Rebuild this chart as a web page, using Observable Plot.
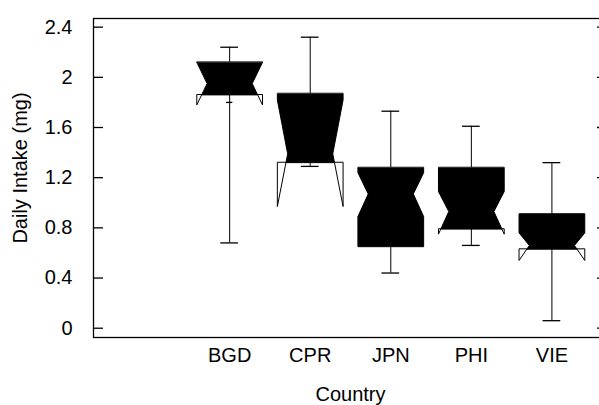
<!DOCTYPE html>
<html>
<head>
<meta charset="utf-8">
<script src="https://cdn.jsdelivr.net/npm/d3@7"></script>
<script src="https://cdn.jsdelivr.net/npm/@observablehq/plot@0.6"></script>
<style>
  html, body { margin: 0; padding: 0; background: white; overflow: hidden; }
  #chart svg { display: block; max-width: none; }
</style>
</head>
<body>
<div id="chart"></div>
<script>
// ---- data ----
const countries   = ["BGD", "CPR", "JPN", "PHI", "VIE"];
const whiskerHigh = [2.24, 2.32, 1.73, 1.61, 1.32];
const upperQuart  = [2.12, 1.87, 1.28, 1.28, 0.91];
const notchHigh   = [2.12, 1.82, 1.24, 1.09, 0.76];
const medians     = [1.95, 1.39, 1.07, 0.93, 0.66];
const lowerQuart  = [1.86, 1.32, 0.65, 0.79, 0.63];
const notchLow    = [1.78, 0.97, 0.89, 0.75, 0.54];
const whiskerLow  = [0.68, 1.29, 0.44, 0.66, 0.06];
const meanMarks   = [{country: "BGD", value: 1.80}];
const yTicks      = [0, 0.4, 0.8, 1.2, 1.6, 2, 2.4];

// ---- geometry (in x-scale units) ----
const boxHalf = 0.408, notchHalf = 0.28, capHalf = 0.11, meanHalf = 0.04;

const rows = countries.map((name, i) => ({
  name, c: i + 1,
  hi: whiskerHigh[i], q3: upperQuart[i], nU: notchHigh[i], med: medians[i],
  q1: lowerQuart[i], nL: notchLow[i], lo: whiskerLow[i]
}));

function halfWidth(y, d) {
  if (y >= d.nU) return boxHalf;
  if (y >= d.med) return notchHalf + (boxHalf - notchHalf) * (y - d.med) / (d.nU - d.med);
  if (y >= d.nL) return notchHalf + (boxHalf - notchHalf) * (d.med - y) / (d.med - d.nL);
  return boxHalf;
}

const boxPts = [], triPts = [];
rows.forEach(d => {
  const ys = Array.from(new Set([d.q3, d.nU, d.med, d.nL, d.q1]))
    .filter(y => y <= d.q3 && y >= d.q1).sort((a, b) => b - a);
  ys.forEach(y => boxPts.push({id: d.name, x: d.c + halfWidth(y, d), y}));
  ys.slice().reverse().forEach(y => boxPts.push({id: d.name, x: d.c - halfWidth(y, d), y}));
  if (d.nL < d.q1) {
    const w = halfWidth(d.q1, d);
    [-1, 1].forEach(s => {
      const id = d.name + "lo" + s;
      triPts.push({id, x: d.c + s * boxHalf, y: d.q1});
      triPts.push({id, x: d.c + s * boxHalf, y: d.nL});
      triPts.push({id, x: d.c + s * w, y: d.q1});
    });
  }
  if (d.nU > d.q3) {
    const w = halfWidth(d.q3, d);
    [-1, 1].forEach(s => {
      const id = d.name + "hi" + s;
      triPts.push({id, x: d.c + s * boxHalf, y: d.q3});
      triPts.push({id, x: d.c + s * boxHalf, y: d.nU});
      triPts.push({id, x: d.c + s * w, y: d.q3});
    });
  }
});

const W = 612, H = 405, mL = 93, mR = 5;
const plotW = W - mL - mR;
const fmt = v => String(+v.toFixed(1));

const chart = Plot.plot({
  width: W, height: H,
  marginLeft: mL, marginRight: mR, marginTop: 18, marginBottom: 68,
  style: {fontFamily: "'Liberation Sans', Arial, sans-serif", fontSize: "20px", background: "white", color: "black"},
  x: {domain: [-0.69, 5.69], axis: null},
  y: {domain: [-0.074, 2.469], axis: null},
  marks: [
    Plot.frame({stroke: "black", strokeWidth: 1.3}),
    Plot.tickY(yTicks, {y: d => d, insetRight: plotW - 10, stroke: "black", strokeWidth: 1.3}),
    Plot.tickY(yTicks, {y: d => d, insetLeft: plotW - 10, stroke: "black", strokeWidth: 1.3}),
    Plot.axisY(yTicks, {anchor: "left", tickSize: 0, tickPadding: 21, tickFormat: fmt, label: null, fill: "black"}),
    Plot.axisX(rows.map(d => d.c), {anchor: "bottom", tickSize: 0, tickPadding: 10, tickFormat: v => countries[v - 1], label: null, fill: "black"}),
    Plot.text(["Daily Intake (mg)"], {frameAnchor: "left", textAnchor: "middle", rotate: -90, dx: -73, dy: -10, fill: "black"}),
    Plot.text(["Country"], {frameAnchor: "bottom", dy: 63, fill: "black"}),
    Plot.ruleX(rows, {x: "c", y1: "q3", y2: "hi", stroke: "black", strokeWidth: 1}),
    Plot.ruleX(rows, {x: "c", y1: "q1", y2: "lo", stroke: "black", strokeWidth: 1}),
    Plot.ruleY(rows, {y: "hi", x1: d => d.c - capHalf, x2: d => d.c + capHalf, stroke: "black", strokeWidth: 1.3}),
    Plot.ruleY(rows, {y: "lo", x1: d => d.c - capHalf, x2: d => d.c + capHalf, stroke: "black", strokeWidth: 1.3}),
    Plot.line(triPts, {x: "x", y: "y", z: "id", curve: "linear-closed", fill: "white", stroke: "black", strokeWidth: 1}),
    Plot.line(boxPts, {x: "x", y: "y", z: "id", curve: "linear-closed", fill: "black", stroke: "black", strokeWidth: 1}),
    Plot.ruleY(meanMarks, {y: "value", x1: d => countries.indexOf(d.country) + 1 - meanHalf, x2: d => countries.indexOf(d.country) + 1 + meanHalf, stroke: "black", strokeWidth: 1.3})
  ]
});
document.getElementById("chart").appendChild(chart);
</script>
</body>
</html>
